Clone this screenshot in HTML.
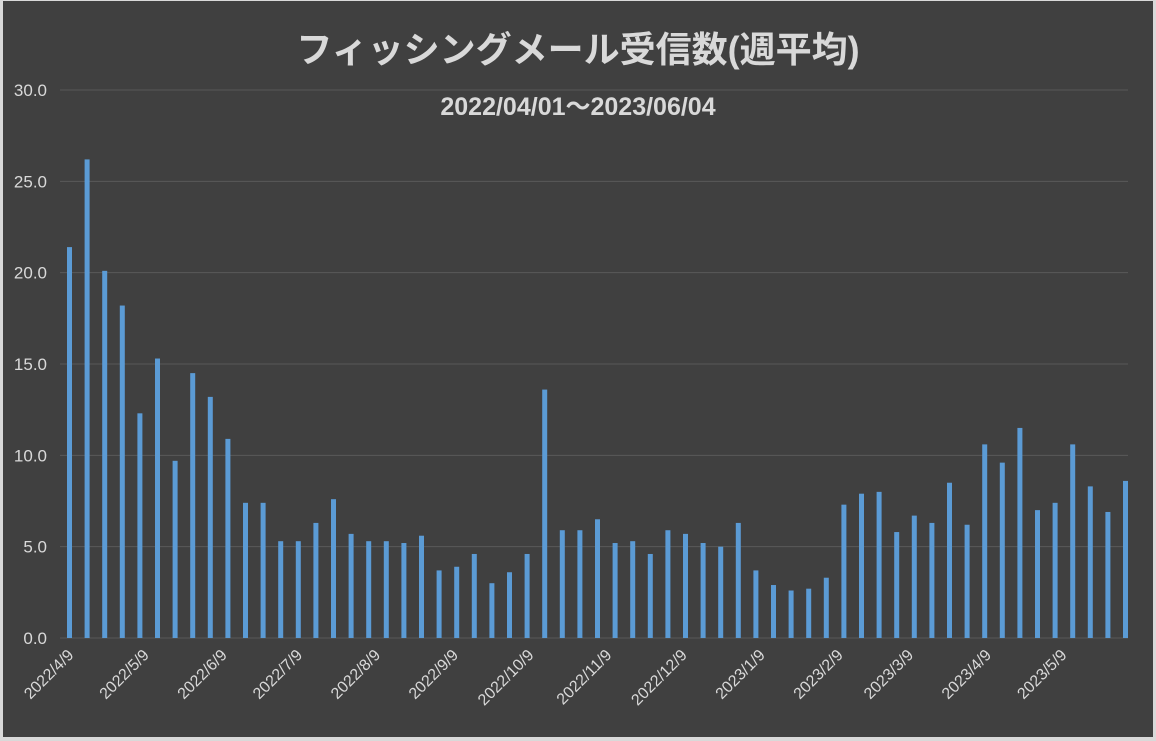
<!DOCTYPE html>
<html><head><meta charset="utf-8"><style>
html,body{margin:0;padding:0;background:#d9d9d9;}
svg{display:block}
text{font-family:"Liberation Sans","Noto Sans CJK JP",sans-serif;}
</style></head><body>
<svg id="chart" width="1156" height="741">
<rect x="3" y="1" width="1150" height="736" fill="#404040"/>
<text x="578" y="62" text-anchor="middle" fill="#d9d9d9" font-size="36" font-weight="bold">フィッシングメール受信数(週平均)</text>
<text x="578" y="115" text-anchor="middle" fill="#d9d9d9" font-size="25" font-weight="bold">2022/04/01～2023/06/04</text>
<g id="grid"></g><g id="bars"></g><g id="ylabels"></g><g id="xlabels"></g>
</svg>
<script>
const values=[21.4,26.2,20.1,18.2,12.3,15.3,9.7,14.5,13.2,10.9,7.4,7.4,5.3,5.3,6.3,7.6,5.7,5.3,5.3,5.2,5.6,3.7,3.9,4.6,3.0,3.6,4.6,13.6,5.9,5.9,6.5,5.2,5.3,4.6,5.9,5.7,5.2,5.0,6.3,3.7,2.9,2.6,2.7,3.3,7.3,7.9,8.0,5.8,6.7,6.3,8.5,6.2,10.6,9.6,11.5,7.0,7.4,10.6,8.3,6.9,8.6];
const yTicks=[0,5,10,15,20,25,30];
const xLabels=["2022/4/9","2022/5/9","2022/6/9","2022/7/9","2022/8/9","2022/9/9","2022/10/9","2022/11/9","2022/12/9","2023/1/9","2023/2/9","2023/3/9","2023/4/9","2023/5/9"];
const ns="http://www.w3.org/2000/svg";
const y0=638,yTop=90,x0=69.5,step=17.6;
const y=v=>y0-(v/30)*(y0-yTop);
const start=new Date(2022,3,9);
const xDate=s=>{const p=s.split('/').map(Number);const d=new Date(p[0],p[1]-1,p[2]);return x0+Math.round((d-start)/864e5)*step/7;};
const mk=(t,a,par)=>{const e=document.createElementNS(ns,t);for(const k in a)e.setAttribute(k,a[k]);document.getElementById(par).appendChild(e);return e;};
yTicks.forEach(v=>{
 if(v>0){const l=mk('line',{x1:60,x2:1128,y1:y(v),y2:y(v),stroke:'#595959','stroke-width':1},'grid');
 
 }
 const t=mk('text',{x:47,y:y(v)+6,'text-anchor':'end',fill:'#d9d9d9','font-size':17},'ylabels');
 t.textContent=v.toFixed(1);
 
 
});
const base=mk('line',{x1:60,x2:1128,y1:y0,y2:y0,stroke:'#595959'},'grid');


values.forEach((v,i)=>{
 const cx=x0+i*step;
 const r=mk('rect',{x:cx-2.5,y:y(v),width:5,height:y0-y(v),fill:'#5b9bd5'},'bars');
 
 
});
xLabels.forEach(s=>{
 const x=xDate(s)+5,yy=656;
 const t=mk('text',{x:x,y:yy,'text-anchor':'end',fill:'#d9d9d9','font-size':16,transform:`rotate(-45 ${x} ${yy})`},'xlabels');
 t.textContent=s;
 
 
});
</script>
</body></html>
